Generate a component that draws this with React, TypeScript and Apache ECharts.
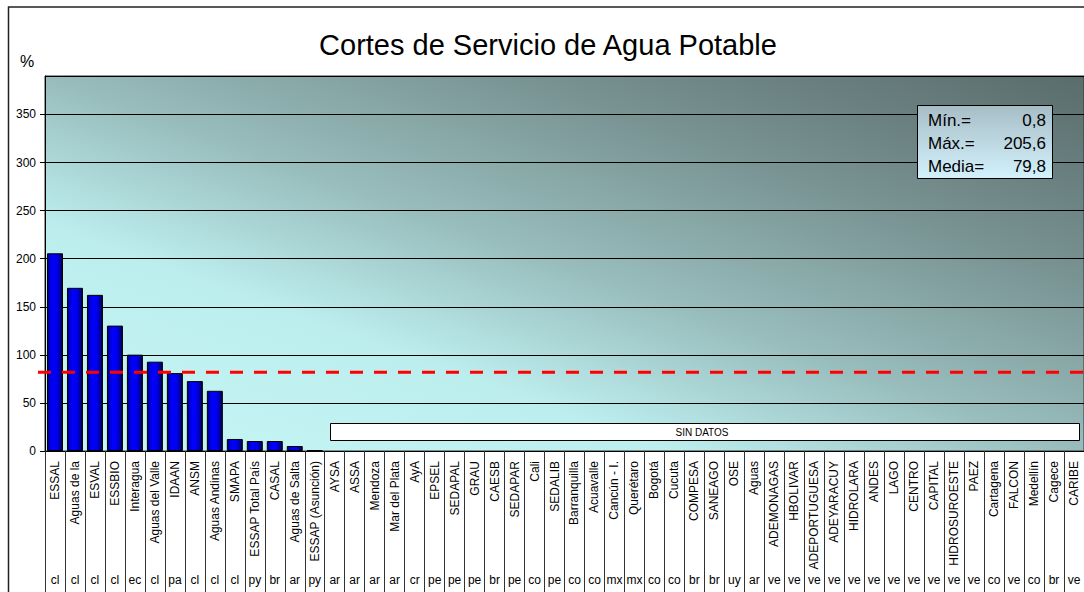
import React, { useEffect, useRef } from 'react';
import * as echarts from 'echarts';

const categories = [
  'ESSAL', 'Aguas de la', 'ESVAL', 'ESSBIO', 'Interagua', 'Aguas del Valle', 'IDAAN', 'ANSM',
  'Aguas Andinas', 'SMAPA', 'ESSAP Total País', 'CASAL', 'Aguas de Salta', 'ESSAP (Asunción)',
  'AYSA', 'ASSA', 'Mendoza', 'Mar del Plata', 'AyA', 'EPSEL', 'SEDAPAL', 'GRAU', 'CAESB',
  'SEDAPAR', 'Cali', 'SEDALIB', 'Barranquilla', 'Acuavalle', 'Cancún - I.', 'Querétaro',
  'Bogotá', 'Cucuta', 'COMPESA', 'SANEAGO', 'OSE', 'Aguas', 'ADEMONAGAS', 'HBOLIVAR',
  'ADEPORTUGUESA', 'ADEYARACUY', 'HIDROLARA', 'ANDES', 'LAGO', 'CENTRO', 'CAPITAL',
  'HIDROSUROESTE', 'PAEZ', 'Cartagena', 'FALCON', 'Medellín', 'Cagece', 'CARIBE',
];

const countries = [
  'cl', 'cl', 'cl', 'cl', 'ec', 'cl', 'pa', 'cl', 'cl', 'cl', 'py', 'br', 'ar', 'py',
  'ar', 'ar', 'ar', 'ar', 'cr', 'pe', 'pe', 'pe', 'br', 'pe', 'co', 'pe', 'co', 'co',
  'mx', 'mx', 'co', 'co', 'br', 'br', 'uy', 'ar', 've', 've', 've', 've', 've', 've',
  've', 've', 've', 've', 've', 'co', 've', 'co', 'br', 've',
];

const values: (number | null)[] = [
  205.6, 169.7, 162.4, 130.4, 100.2, 92.9, 81.0, 72.7, 62.6, 12.5, 10.4, 10.4, 5.2, 0.8,
  null, null, null, null, null, null, null, null, null, null, null, null, null, null,
  null, null, null, null, null, null, null, null, null, null, null, null, null, null,
  null, null, null, null, null, null, null, null, null, null,
];

const yMin = 0;
const yMax = 390;
const yInterval = 50;
const refLineLevel = 81.8;

const statLabels = ['Mín.=', 'Máx.=', 'Media='];

const FONT = '"Liberation Sans", Arial, sans-serif';

export default function App() {
  const ref = useRef<HTMLDivElement>(null);

  useEffect(() => {
    if (!ref.current) return;
    const chart = echarts.init(ref.current, null, { renderer: 'svg' });

    const nums = values.filter((v): v is number => v !== null);
    const mn = Math.min(...nums);
    const mx = Math.max(...nums);
    const mean = nums.reduce((a, b) => a + b, 0) / nums.length;
    const fmt = (v: number) => v.toFixed(1).replace('.', ',');
    const statValues = [fmt(mn), fmt(mx), fmt(mean)];

    const gridLeft = 45;
    const gridTop = 76;
    const gridBottomY = 451;

    const bgGrad = new echarts.graphic.LinearGradient(
      gridLeft, gridBottomY, gridLeft + 239.5, gridBottomY - 663.5,
      [
        { offset: 0, color: '#c6f6f6' },
        { offset: 0.3, color: '#bdeeee' },
        { offset: 0.5, color: '#98bcbc' },
        { offset: 0.75, color: '#768f8f' },
        { offset: 1, color: '#5a6c6c' },
      ],
      true
    );

    const barGrad = new echarts.graphic.LinearGradient(0, 0, 1, 0, [
      { offset: 0, color: '#000040' },
      { offset: 0.12, color: '#0000c8' },
      { offset: 0.35, color: '#0000ff' },
      { offset: 0.6, color: '#0000f0' },
      { offset: 0.85, color: '#0000a0' },
      { offset: 1, color: '#000030' },
    ]);

    chart.setOption({
      animation: false,
      backgroundColor: '#ffffff',
      grid: {
        show: true,
        left: gridLeft,
        top: gridTop,
        right: 0,
        bottom: 592 - gridBottomY,
        backgroundColor: bgGrad,
        borderColor: '#333333',
        borderWidth: 1,
        containLabel: false,
      },
      xAxis: [
        {
          type: 'category',
          data: categories,
          position: 'bottom',
          boundaryGap: true,
          axisLine: { show: true, lineStyle: { color: '#000000', width: 1 } },
          axisTick: { show: true, interval: 0, length: 145, lineStyle: { color: '#333333', width: 1 } },
          axisLabel: {
            interval: 0,
            rotate: 90,
            margin: 10,
            fontSize: 12,
            fontFamily: FONT,
            color: '#000000',
          },
          splitLine: { show: false },
        },
        {
          type: 'category',
          data: countries,
          position: 'bottom',
          boundaryGap: true,
          axisLine: { show: false },
          axisTick: { show: false },
          axisLabel: {
            interval: 0,
            margin: 123,
            fontSize: 12,
            fontFamily: FONT,
            color: '#000000',
          },
          splitLine: { show: false },
        },
      ],
      yAxis: {
        type: 'value',
        min: yMin,
        max: yMax,
        interval: yInterval,
        axisLine: { show: true, lineStyle: { color: '#000000', width: 1 } },
        axisTick: { show: true, length: 5, lineStyle: { color: '#000000' } },
        axisLabel: {
          showMaxLabel: false,
          margin: 9,
          fontSize: 12,
          fontFamily: FONT,
          color: '#000000',
        },
        splitLine: { show: true, lineStyle: { color: '#000000', width: 1 } },
      },
      series: [
        {
          type: 'bar',
          xAxisIndex: 0,
          data: values,
          barCategoryGap: '20%',
          itemStyle: { color: barGrad, borderColor: '#000000', borderWidth: 1 },
          z: 3,
        },
      ],
    });

    const refY = chart.convertToPixel({ yAxisIndex: 0 }, refLineLevel) as number;

    const legendGrad = new echarts.graphic.LinearGradient(0, 0, 0, 1, [
      { offset: 0, color: '#a7bdc6' },
      { offset: 1, color: '#d3f2fd' },
    ]);

    const txt = (text: string, x: number, y: number, size: number, align: string, extra: any = {}) => ({
      type: 'text',
      x,
      y,
      z: 120,
      style: {
        text,
        font: `${size}px ${FONT}`,
        fill: '#000000',
        align,
        textAlign: align,
        verticalAlign: 'middle',
        textVerticalAlign: 'middle',
        ...extra,
      },
    });

    const graphics: any[] = [
      {
        type: 'rect',
        z: 1,
        shape: { x: 8.5, y: 7, width: 1200, height: 700 },
        style: { fill: 'rgba(0,0,0,0)', stroke: '#222222', lineWidth: 1.5 },
      },
      txt('Cortes de Servicio de Agua Potable', 548, 45, 29, 'center'),
      txt('%', 27, 61, 16, 'center'),
      {
        type: 'rect',
        z: 110,
        shape: { x: 917.5, y: 105.5, width: 135, height: 73 },
        style: { fill: legendGrad, stroke: '#000000', lineWidth: 1 },
      },
      ...statLabels.map((l, i) => txt(l, 928, 120 + i * 23, 17, 'left')),
      ...statValues.map((v, i) => txt(v, 1046, 120 + i * 23, 17, 'right')),
      {
        type: 'rect',
        z: 110,
        shape: { x: 330.5, y: 423.5, width: 749, height: 17 },
        style: { fill: '#ffffff', stroke: '#000000', lineWidth: 1 },
      },
      txt('SIN DATOS', 702, 432.5, 10, 'center'),
      {
        type: 'line',
        z: 115,
        shape: { x1: 38, y1: refY, x2: 1084, y2: refY },
        style: { stroke: '#ff0000', lineWidth: 3, lineDash: [13, 11] },
      },
    ];

    chart.setOption({ graphic: graphics });

    return () => chart.dispose();
  }, []);

  return (
    <div
      ref={ref}
      style={{ position: 'absolute', left: 0, top: 0, width: 1084, height: 592 }}
    />
  );
}
